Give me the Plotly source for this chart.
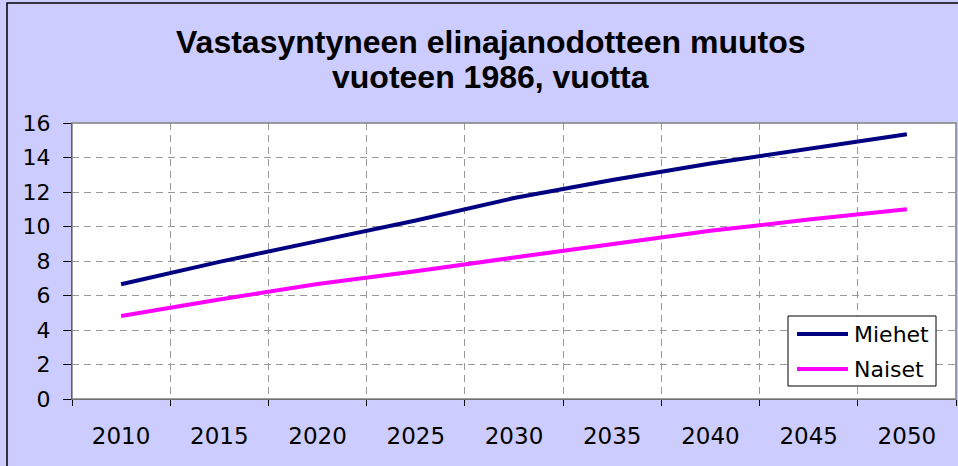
import plotly.graph_objects as go

years = ["2010", "2015", "2020", "2025", "2030", "2035", "2040", "2045", "2050"]
miehet = [6.65, 7.95, 9.15, 10.35, 11.65, 12.7, 13.65, 14.5, 15.35]
naiset = [4.81, 5.77, 6.67, 7.4, 8.2, 9.0, 9.75, 10.4, 11.0]
series = [("Miehet", miehet, "#000080"), ("Naiset", naiset, "#FF00FF")]
title_lines = ["Vastasyntyneen elinajanodotteen muutos", "vuoteen 1986, vuotta"]

TICKFONT = "DejaVu Sans, Verdana, sans-serif"
TITLEFONT = "Liberation Sans, Arial, sans-serif"

# plot area in pixels: left 72, right 956, top 123, bottom 399
def px_x(px):
    return (px - 72) / 884

def px_y(py):
    return (399 - py) / 276

fig = go.Figure()
for name, vals, color in series:
    fig.add_trace(go.Scatter(x=years, y=vals, mode="lines", name=name,
                             line=dict(color=color, width=4), showlegend=False,
                             hoverinfo="skip"))

fig.update_layout(
    width=958, height=466,
    margin=dict(l=72, r=2, t=123, b=67),
    paper_bgcolor="#CCCCFF",
    plot_bgcolor="white",
    font=dict(family=TICKFONT, size=21, color="black"),
)

# title as two lines with the tight line spacing of the original
for txt, py in zip(title_lines, [42.5, 77]):
    fig.add_annotation(text="<b>%s</b>" % txt, xref="paper", yref="paper",
                       x=px_x(490), y=px_y(py), xanchor="center", yanchor="middle",
                       showarrow=False, font=dict(family=TITLEFONT, size=32, color="black"))

fig.update_xaxes(
    type="category", tickson="boundaries",
    showgrid=True, gridcolor="#999999", griddash="7px,5px", gridwidth=1,
    ticks="outside", ticklen=6, tickcolor="black",
    showline=True, linecolor="#444444", linewidth=1,
    tickfont=dict(size=23), ticklabelstandoff=16, range=[-0.5, 8.5],
)
fig.update_yaxes(
    range=[0, 16], dtick=2,
    showgrid=True, gridcolor="#999999", griddash="7px,5px", gridwidth=1,
    ticks="outside", ticklen=8, tickcolor="black",
    showline=True, linecolor="black", linewidth=1,
    tickfont=dict(size=22), ticklabelstandoff=8,
    zeroline=False,
)

# plot-area border
fig.add_shape(type="rect", xref="paper", yref="paper", x0=0, y0=0, x1=1, y1=1,
              line=dict(color="#808080", width=1.5), layer="above")
# outer chart frame (right and bottom edges lie outside the picture)
fig.add_shape(type="rect", xref="paper", yref="paper",
              x0=px_x(7), y0=px_y(480), x1=px_x(975), y1=px_y(3),
              line=dict(color="black", width=1.5), layer="below")

# legend box, drawn like the original
fig.add_shape(type="rect", xref="paper", yref="paper",
              x0=px_x(788), y0=px_y(386), x1=px_x(936), y1=px_y(316),
              fillcolor="white", line=dict(color="black", width=1), layer="above")
for (name, vals, color), py in zip(series, [334, 369]):
    fig.add_shape(type="line", xref="paper", yref="paper",
                  x0=px_x(797), x1=px_x(848), y0=px_y(py), y1=px_y(py),
                  line=dict(color=color, width=4), layer="above")
    fig.add_annotation(text=name, xref="paper", yref="paper",
                       x=px_x(852), y=px_y(py), xanchor="left", yanchor="middle",
                       showarrow=False, font=dict(family=TICKFONT, size=22, color="black"))

fig.write_html("out.html", config={"displayModeBar": False},
               post_script="document.body.style.margin='0';")
